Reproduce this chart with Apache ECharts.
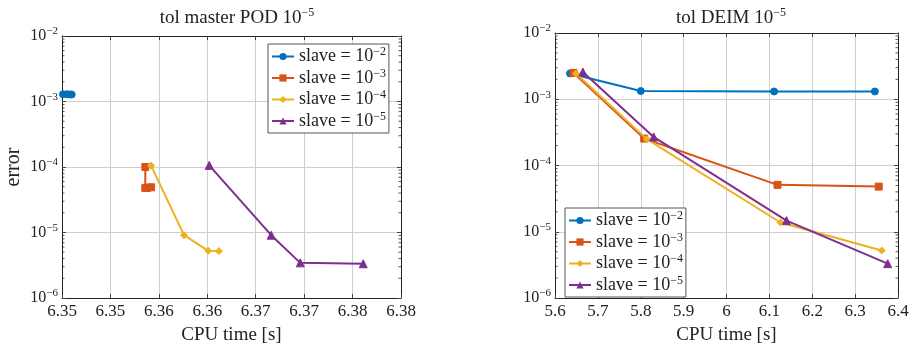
<!DOCTYPE html>
<html>
<head>
<meta charset="utf-8">
<script src="https://cdn.jsdelivr.net/npm/echarts@6/dist/echarts.min.js"></script>
<style>html,body{margin:0;padding:0;background:#fff}#c{width:914px;height:350px}</style>
</head>
<body>
<div id="c"></div>
<script>
// ---- data ----
var seriesNames = ['s2', 's3', 's4', 's5'];
var seriesExp = ['2', '3', '4', '5'];
var leftTitle = 'tol master POD 10{s|−5}';
var rightTitle = 'tol DEIM 10{s|−5}';
var leftXTickLabels = ['6.35', '6.35', '6.36', '6.36', '6.37', '6.37', '6.38', '6.38'];
var rightXTickLabels = ['5.6', '5.7', '5.8', '5.9', '6', '6.1', '6.2', '6.3', '6.4'];

// left panel (tol master POD)
var leftX2 = [6.3501, 6.3505, 6.3508, 6.3510];
var leftY2 = [1.29e-3, 1.29e-3, 1.28e-3, 1.28e-3];
var leftX3 = [6.3586, 6.3586, 6.3588, 6.3592];
var leftY3 = [1.0e-4, 4.8e-5, 4.8e-5, 4.9e-5];
var leftX4 = [6.3592, 6.3626, 6.3651, 6.3662];
var leftY4 = [1.05e-4, 9.1e-6, 5.25e-6, 5.2e-6];
var leftX5 = [6.3652, 6.3716, 6.3746, 6.3811];
var leftY5 = [1.06e-4, 9.1e-6, 3.44e-6, 3.33e-6];

// right panel (tol DEIM)
var rightX2 = [5.635, 5.800, 6.111, 6.346];
var rightY2 = [2.45e-3, 1.33e-3, 1.31e-3, 1.31e-3];
var rightX3 = [5.643, 5.808, 6.119, 6.355];
var rightY3 = [2.5e-3, 2.55e-4, 5.1e-5, 4.8e-5];
var rightX4 = [5.649, 5.814, 6.126, 6.362];
var rightY4 = [2.45e-3, 2.5e-4, 1.38e-5, 5.2e-6];
var rightX5 = [5.665, 5.830, 6.140, 6.376];
var rightY5 = [2.57e-3, 2.7e-4, 1.47e-5, 3.3e-6];

var colors = ['#0072BD', '#D95319', '#EDB120', '#7E2F8E'];
var symbols = ['circle', 'rect', 'diamond', 'triangle'];

function zip(xs, ys) { return xs.map(function (x, i) { return [x, ys[i]]; }); }
var leftData = [zip(leftX2, leftY2), zip(leftX3, leftY3), zip(leftX4, leftY4), zip(leftX5, leftY5)];
var rightData = [zip(rightX2, rightY2), zip(rightX3, rightY3), zip(rightX4, rightY4), zip(rightX5, rightY5)];

var FONT = 'Liberation Serif';
var TXT = '#222';

var chart = echarts.init(document.getElementById('c'), null, { renderer: 'canvas' });

var grids = [
  { left: 62, top: 36, width: 339, height: 268 },
  { left: 555, top: 33, width: 343, height: 270 }
];

function xAxes(gi, min, max, interval, labels) {
  var base = {
    type: 'value', gridIndex: gi, min: min, max: max, interval: interval,
    axisLine: { show: true, onZero: false, lineStyle: { color: '#222', width: 1 } },
    axisTick: { show: true, inside: true, length: 4, lineStyle: { color: '#444' } },
    splitLine: { show: true, lineStyle: { color: '#cfcfcf', width: 1 } }
  };
  var bottom = Object.assign({}, base, {
    position: 'bottom',
    axisLabel: {
      show: true, fontFamily: FONT, fontSize: 17, color: TXT, margin: 5,
      formatter: function (v, i) { return labels[i] !== undefined ? labels[i] : ''; }
    },
    name: 'CPU time [s]', nameLocation: 'middle', nameGap: 28,
    nameTextStyle: { fontFamily: FONT, fontSize: 19, color: TXT }
  });
  var top = Object.assign({}, base, {
    position: 'top', axisLabel: { show: false }, splitLine: { show: false }
  });
  return [bottom, top];
}

function yAxes(gi, showName) {
  var base = {
    type: 'log', logBase: 10, gridIndex: gi, min: 1e-6, max: 1e-2,
    axisLine: { show: true, onZero: false, lineStyle: { color: '#222', width: 1 } },
    axisTick: { show: true, inside: true, length: 4, lineStyle: { color: '#444' } },
    splitLine: { show: true, lineStyle: { color: '#cfcfcf', width: 1 } }
  };
  var left = Object.assign({}, base, {
    position: 'left',
    axisLabel: {
      show: true, fontFamily: FONT, fontSize: 16, color: TXT, margin: 4,
      formatter: function (v) {
        var e = Math.round(-Math.log(v) / Math.LN10);
        return '10{s|−' + e + '}';
      },
      rich: { s: { fontFamily: FONT, fontSize: 11, color: TXT, padding: [0, 0, 9, 0] } }
    }
  });
  if (showName) {
    left.name = 'error';
    left.nameLocation = 'middle';
    left.nameGap = 38;
    left.nameRotate = 90;
    left.nameTextStyle = { fontFamily: FONT, fontSize: 20, color: TXT };
  }
  var right = Object.assign({}, base, {
    position: 'right', axisLabel: { show: false }, splitLine: { show: false }
  });
  return [left, right];
}

var xs = xAxes(0, 6.35, 6.385, 0.005, leftXTickLabels).concat(xAxes(1, 5.6, 6.4, 0.1, rightXTickLabels));
var ys = yAxes(0, true).concat(yAxes(1, false));

var series = [];
[leftData, rightData].forEach(function (dataset, gi) {
  dataset.forEach(function (d, k) {
    series.push({
      name: seriesNames[k], type: 'line',
      xAxisIndex: gi * 2, yAxisIndex: gi * 2,
      data: d, symbol: symbols[k],
      symbolSize: k === 3 ? 8 : 7,
      showSymbol: true,
      lineStyle: { color: colors[k], width: 2 },
      itemStyle: { color: colors[k], borderColor: colors[k] },
      emphasis: { disabled: true },
      animation: false, z: 3 + k
    });
  });
});

function legendFmt(name) {
  var k = seriesNames.indexOf(name);
  return 'slave = 10{s|−' + seriesExp[k] + '}';
}
var legendText = {
  fontFamily: FONT, fontSize: 18, color: TXT, lineHeight: 20,
  rich: { s: { fontFamily: FONT, fontSize: 12, color: TXT, padding: [0, 0, 9, 0] } }
};
var legendBase = {
  orient: 'vertical', data: seriesNames, formatter: legendFmt,
  textStyle: legendText, itemWidth: 22, itemHeight: 9, itemGap: 1,
  borderColor: '#555', borderWidth: 1, padding: [2, 3, 2, 3],
  backgroundColor: '#fff', selectedMode: false
};

var titleStyle = { fontFamily: FONT, fontSize: 19, fontWeight: 'normal', color: TXT,
  rich: { s: { fontFamily: FONT, fontSize: 12, color: TXT, padding: [0, 0, 10, 0] } } };

var option = {
  animation: false,
  backgroundColor: '#fff',
  title: [
    { text: leftTitle, left: 232, top: 2, textAlign: 'center', textStyle: titleStyle },
    { text: rightTitle, left: 726, top: 2, textAlign: 'center', textStyle: titleStyle }
  ],
  legend: [
    Object.assign({}, legendBase, { left: 268, top: 44 }),
    Object.assign({}, legendBase, { left: 565, top: 208 })
  ],
  grid: grids,
  xAxis: xs,
  yAxis: ys,
  series: series
};
chart.setOption(option);

// minor log ticks on left and right frame edges
function addMinorTicks() {
  var els = [];
  [[0, 6.35, 6.385], [1, 5.6, 6.4]].forEach(function (g) {
    var gi = g[0];
    for (var e = -6; e < -2; e++) {
      for (var m = 2; m <= 9; m++) {
        var v = m * Math.pow(10, e);
        var pL = chart.convertToPixel({ xAxisIndex: gi * 2, yAxisIndex: gi * 2 }, [g[1], v]);
        var pR = chart.convertToPixel({ xAxisIndex: gi * 2, yAxisIndex: gi * 2 }, [g[2], v]);
        els.push({ type: 'line', shape: { x1: pL[0], y1: pL[1], x2: pL[0] + 2.5, y2: pL[1] }, style: { stroke: '#555', lineWidth: 1 }, silent: true });
        els.push({ type: 'line', shape: { x1: pR[0] - 2.5, y1: pR[1], x2: pR[0], y2: pR[1] }, style: { stroke: '#555', lineWidth: 1 }, silent: true });
      }
    }
  });
  chart.setOption({ graphic: els });
}
addMinorTicks();
</script>
</body>
</html>
